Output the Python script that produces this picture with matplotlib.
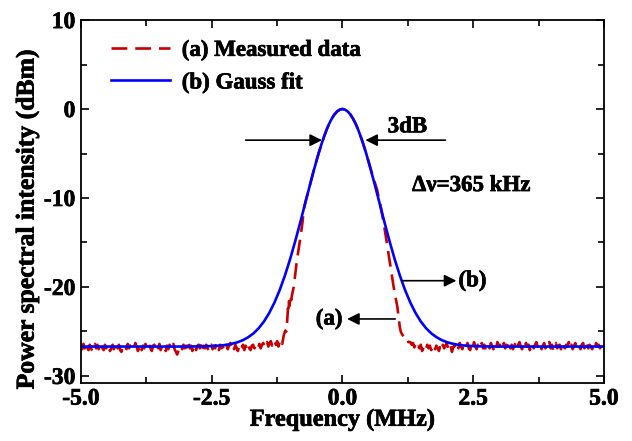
import numpy as np
import matplotlib
matplotlib.use("Agg")
import matplotlib.pyplot as plt
import matplotlib.patheffects as pe
from matplotlib.ticker import MultipleLocator, FormatStrFormatter

plt.rcParams['font.family'] = ['Liberation Serif', 'DejaVu Serif']
plt.rcParams['font.weight'] = 'bold'
plt.rcParams['axes.unicode_minus'] = False

# measured spectrum: noise floor left of the peak (-5 .. -1.15 MHz), dBm
floor_left = [
    -26.5, -27.0, -26.4, -26.9, -26.3, -26.8, -27.1, -26.5, -26.9, -27.2, -26.6, -26.4, -26.9, -26.5, -27.0, -26.7, -26.3, -26.9, -27.1, -26.5,
    -26.9, -26.4, -26.7, -27.2, -26.9, -26.5, -27.0, -26.6, -26.3, -26.9, -26.5, -27.1, -27.3, -26.8, -26.5, -26.7, -27.0, -26.4, -26.9, -26.6,
    -26.5, -27.0, -26.8, -26.3, -26.7, -27.2, -26.9, -26.5, -27.1, -26.6, -26.9, -26.4, -26.7, -27.0, -26.5, -26.9, -27.2, -26.6, -26.5, -27.0,
    -26.6, -26.9, -26.4, -27.1, -26.7, -26.5, -26.9, -27.2, -26.6, -27.0, -26.5, -26.9, -26.7, -26.4, -27.0, -27.3, -27.6, -27.2, -26.9, -26.6,
    -27.0, -26.5, -26.9, -26.6, -27.1, -26.4, -26.9, -26.6, -27.2, -26.5, -26.9, -27.1, -26.6, -26.5, -26.9, -26.3, -27.0, -26.6, -26.9, -26.5,
    -26.9, -27.2, -26.6, -26.5, -27.0, -26.6, -26.9, -26.3, -26.7, -27.1, -26.5, -26.9, -26.6, -27.2, -26.8, -26.5, -27.0, -26.6, -26.3, -26.9,
    -26.6, -27.0, -26.5, -26.9, -27.2, -26.6, -27.0, -26.8, -26.5, -27.1, -26.6, -26.9, -26.4, -26.9, -27.1, -26.6, -26.5, -26.9, -26.7, -26.4,
    -26.8, -26.4, -26.9, -26.5, -26.3, -26.8, -26.4, -26.2, -26.7, -26.3, -26.1, -26.6, -26.2, -26.0, -26.5, -26.1, -26.7, -26.2, -25.9, -26.4,
]

# measured spectrum: the line itself
peak_freq = [-1.12, -1.09, -1.07, -1.06, -1.05, -1.04, -1.03, -1.02, -1.01, -1.00, -0.98, -0.96, -0.93, -0.90,
             -0.87, -0.83, -0.79, -0.76, -0.74, -0.70, -0.65, -0.60, -0.55, -0.50, -0.45, -0.40, -0.35, -0.30,
             -0.25, -0.20, -0.15, -0.10, -0.05, 0.00, 0.05, 0.10, 0.15, 0.20, 0.25, 0.30, 0.35, 0.40, 0.45,
             0.50, 0.55, 0.60, 0.66, 0.72, 0.79, 0.86, 0.92, 0.98, 1.02, 1.05, 1.08, 1.10, 1.12, 1.14, 1.17,
             1.20, 1.23, 1.26]
peak_power = [-25.4, -24.9, -25.0, -24.2, -23.3, -22.4, -22.9, -21.6, -22.1, -21.0, -21.5, -20.8, -20.0, -18.5,
              -17.0, -15.5, -13.9, -12.6, -11.3, -10.3, -9.2, -8.1, -6.9, -5.9, -4.9, -4.0, -3.1, -2.3,
              -1.6, -1.05, -0.6, -0.27, -0.07, 0.0, -0.07, -0.27, -0.6, -1.05, -1.6, -2.3, -3.1, -3.95, -4.9,
              -5.9, -6.9, -7.9, -9.0, -10.6, -12.8, -15.4, -17.7, -20.0, -21.3, -22.2, -23.7, -24.6, -25.1, -25.3, -25.6,
              -25.9, -25.8, -26.2]

# measured spectrum: noise floor right of the peak (1.3 .. 5 MHz), dBm
floor_right = [
    -26.2, -26.5, -26.3, -26.8, -26.5, -27.0, -26.7, -26.9, -26.5, -27.2, -26.9, -26.6, -27.0, -26.5, -26.9, -26.6, -27.1, -26.8, -26.5, -27.0,
    -26.6, -26.9, -27.2, -26.6, -27.0, -26.5, -26.9, -26.6, -26.3, -26.9, -27.1, -26.6, -27.3, -26.8, -26.5, -27.0, -26.6, -26.9, -26.3, -26.7,
    -27.0, -26.5, -26.9, -26.6, -26.3, -26.9, -27.1, -26.5, -26.9, -26.2, -26.7, -27.0, -26.5, -26.9, -26.6, -26.3, -26.9, -26.5, -27.1, -26.6,
    -26.5, -26.9, -26.3, -26.7, -27.0, -26.5, -26.9, -26.2, -26.7, -26.5, -27.1, -26.6, -26.3, -26.9, -26.5, -26.7, -26.2, -26.9, -26.5, -27.0,
    -26.6, -26.3, -26.9, -26.5, -26.2, -26.7, -27.0, -26.5, -26.9, -26.3, -26.7, -26.5, -27.1, -26.6, -26.3, -26.9, -26.5, -26.2, -26.7, -26.9,
    -26.5, -27.0, -26.6, -26.3, -26.9, -26.5, -26.7, -26.2, -26.9, -26.5, -27.1, -26.6, -26.3, -26.9, -26.6, -26.5, -27.0, -26.3, -26.7, -26.9,
    -26.5, -26.7, -26.2, -26.9, -26.5, -27.0, -26.6, -26.3, -26.9, -26.5, -26.7, -27.0, -26.5, -26.3, -26.9, -26.6, -26.2, -26.9, -26.5, -26.7,
    -27.0, -26.5, -26.9, -26.3, -26.7, -26.5, -26.9, -26.6, -26.3, -26.7,
]

# Gauss fit (one half; curve is symmetric)
fit_freq = [0.0, 0.05, 0.1, 0.15, 0.2, 0.25, 0.3, 0.35, 0.4, 0.45, 0.5, 0.6, 0.7, 0.8, 0.9, 1.0, 1.1, 1.2,
            1.3, 1.4, 1.5, 1.6, 1.7, 1.8, 1.9, 2.0, 2.1, 2.2, 2.3, 2.4, 2.5, 2.7, 3.0, 4.0, 5.0]
fit_power = [0.0, -0.07, -0.27, -0.59, -1.05, -1.62, -2.30, -3.08, -3.95, -4.89, -5.91, -8.07, -10.34, -12.62,
             -14.82, -16.88, -18.74, -20.37, -21.77, -22.94, -23.89, -24.64, -25.22, -25.65, -25.98, -26.21,
             -26.37, -26.49, -26.57, -26.62, -26.65, -26.68, -26.70, -26.70, -26.70]

meas_x = np.concatenate([np.linspace(-5.0, -1.15, len(floor_left)), peak_freq,
                         np.linspace(1.30, 5.0, len(floor_right))])
meas_y = np.concatenate([floor_left, peak_power, floor_right])

fit_x = np.concatenate([-np.array(fit_freq[:0:-1]), fit_freq])
fit_y = np.concatenate([fit_power[:0:-1], fit_power])

bold = [pe.withStroke(linewidth=0.5, foreground='black')]

fig = plt.figure(figsize=(6.32, 4.41), dpi=100)
ax = fig.add_axes([0.128, 0.1315, 0.8275, 0.823])

ax.plot(meas_x, meas_y, color='#C80000', lw=1.9, dashes=(6, 3), label='(a) Measured data')
ax.plot(fit_x, fit_y, color='#0000FF', lw=1.9, label='(b) Gauss fit')

ax.set_xlim(-5, 5)
ax.set_ylim(-30.8, 10)
ax.xaxis.set_major_locator(MultipleLocator(2.5))
ax.xaxis.set_minor_locator(MultipleLocator(1.25))
ax.xaxis.set_major_formatter(FormatStrFormatter('%.1f'))
ax.yaxis.set_major_locator(MultipleLocator(10))
ax.yaxis.set_minor_locator(MultipleLocator(5))
ax.tick_params(which='both', direction='in', top=True, right=True, width=1.2, labelsize=17)
ax.tick_params(which='major', length=6, pad=4)
ax.tick_params(which='minor', length=4)
for s in ax.spines.values():
    s.set_linewidth(1.3)
for lab in ax.get_xticklabels() + ax.get_yticklabels():
    lab.set_path_effects(bold)

ax.set_xlabel('Frequency (MHz)', fontsize=17.5, fontweight='bold', labelpad=0, path_effects=bold)
ax.set_ylabel('Power spectral intensity (dBm)', fontsize=18.5, fontweight='bold', path_effects=bold)
ax.yaxis.set_label_coords(-0.08, 0.452)

leg = ax.legend(loc='upper left', bbox_to_anchor=(0.057, 0.946), frameon=False, fontsize=16.5,
                handlelength=2.6, handletextpad=0.5, labelspacing=0.5, borderpad=0, borderaxespad=0)
for t in leg.get_texts():
    t.set_path_effects(bold)

arrow = dict(arrowstyle='-|>', color='black', lw=1.2, mutation_scale=18, shrinkA=0, shrinkB=0)
ax.annotate('', xy=(-0.39, -3.5), xytext=(-1.85, -3.5), arrowprops=arrow)
ax.annotate('', xy=(0.44, -3.5), xytext=(1.97, -3.5), arrowprops=arrow)
ax.text(1.24, -2.0, '3dB', fontsize=16.5, fontweight='bold', ha='center', va='center', path_effects=bold)
ax.text(1.33, -8.6, 'Δν=365 kHz', fontsize=16.5, fontweight='bold', ha='left', va='center', path_effects=bold)
ax.annotate('', xy=(2.18, -19.3), xytext=(1.14, -19.3), arrowprops=arrow)
ax.text(2.22, -19.3, '(b)', fontsize=16.5, fontweight='bold', ha='left', va='center', path_effects=bold)
ax.annotate('', xy=(0.09, -23.6), xytext=(1.01, -23.6), arrowprops=arrow)
ax.text(0.0, -23.6, '(a)', fontsize=16.5, fontweight='bold', ha='right', va='center', path_effects=bold)

fig.savefig('out.png', dpi=100)
